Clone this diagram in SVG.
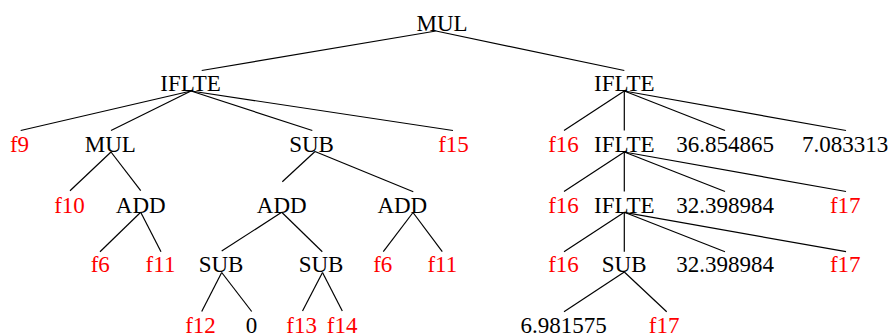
<svg xmlns="http://www.w3.org/2000/svg" width="892" height="335" viewBox="0 0 892 335">
  <style>
    .lbl text { font-family: "Liberation Serif", "Times New Roman", Times, "DejaVu Serif", serif; font-size: 23px; text-anchor: middle; fill: #000; }
    .lbl text.v { fill: #ff0000; }
    #edges line { stroke: #000; stroke-width: 1.2; }
  </style>
  <rect width="892" height="335" fill="#fff"/>

  <g id="edges">
    <line x1="436" y1="31" x2="201.7" y2="70.5"/>
    <line x1="436" y1="31" x2="624.3" y2="70.5"/>

    <line x1="191" y1="91" x2="20.7" y2="130.5"/>
    <line x1="191" y1="91" x2="111" y2="130.5"/>
    <line x1="191" y1="91" x2="312.3" y2="130.5"/>
    <line x1="191" y1="91" x2="453" y2="130.5"/>

    <line x1="624.3" y1="91" x2="564" y2="130.5"/>
    <line x1="624.3" y1="91" x2="624.3" y2="130.5"/>
    <line x1="624.3" y1="91" x2="725" y2="130.5"/>
    <line x1="624.3" y1="91" x2="846" y2="130.5"/>

    <line x1="111" y1="152" x2="70" y2="190.7"/>
    <line x1="111" y1="152" x2="140.7" y2="190.7"/>
    <line x1="315" y1="151.5" x2="282.3" y2="181.7"/>
    <line x1="315" y1="151.5" x2="413.3" y2="191.7"/>

    <line x1="624.3" y1="152" x2="564" y2="191.5"/>
    <line x1="624.3" y1="152" x2="624.3" y2="191.5"/>
    <line x1="624.3" y1="152" x2="725" y2="191.5"/>
    <line x1="624.3" y1="152" x2="846" y2="191.5"/>

    <line x1="140.7" y1="212.3" x2="100" y2="251.7"/>
    <line x1="140.7" y1="212.3" x2="161" y2="251.7"/>
    <line x1="281.7" y1="212.3" x2="221.7" y2="251"/>
    <line x1="281.7" y1="212.3" x2="322.3" y2="251.7"/>
    <line x1="413" y1="212.5" x2="383.3" y2="251.7"/>
    <line x1="413" y1="212.5" x2="442.3" y2="251.7"/>

    <line x1="624.3" y1="212.3" x2="564" y2="251.7"/>
    <line x1="624.3" y1="212.3" x2="624.3" y2="251.7"/>
    <line x1="624.3" y1="212.3" x2="725" y2="251.7"/>
    <line x1="624.3" y1="212.3" x2="846" y2="251.7"/>

    <line x1="221.7" y1="272.5" x2="201.7" y2="311.5"/>
    <line x1="221.7" y1="272.5" x2="251.7" y2="311.5"/>
    <line x1="322.5" y1="272.5" x2="302.5" y2="311"/>
    <line x1="322.5" y1="272.5" x2="342.3" y2="311"/>

    <line x1="624.3" y1="272" x2="564" y2="311.7"/>
    <line x1="624.3" y1="272" x2="666.7" y2="311.7"/>
  </g>

  <g class="lbl" font-family="Liberation Serif, serif">
    <!-- root -->
    <g id="n0"><text x="442" y="30.5">MUL</text></g>

    <!-- depth 1 -->
    <g id="n1"><text x="190.5" y="91">IFLTE</text></g>
    <g id="n2"><text x="624.3" y="91">IFLTE</text></g>

    <!-- depth 2 -->
    <g id="n3"><text class="v" x="19.5" y="152">f9</text></g>
    <g id="n4"><text x="110.3" y="152">MUL</text></g>
    <g id="n5"><text x="311.5" y="152">SUB</text></g>
    <g id="n6"><text class="v" x="453.5" y="152">f15</text></g>
    <g id="n7"><text class="v" x="563.5" y="152">f16</text></g>
    <g id="n8"><text x="624.3" y="152">IFLTE</text></g>
    <g id="n9"><text x="725" y="152">36.854865</text></g>
    <g id="n10"><text x="845" y="152">7.083313</text></g>

    <!-- depth 3 -->
    <g id="n11"><text class="v" x="69.5" y="212.5">f10</text></g>
    <g id="n12"><text x="140.7" y="212.5">ADD</text></g>
    <g id="n13"><text x="281.7" y="212.5">ADD</text></g>
    <g id="n14"><text x="402.3" y="212.5">ADD</text></g>
    <g id="n15"><text class="v" x="563.5" y="212.5">f16</text></g>
    <g id="n16"><text x="624.3" y="212.5">IFLTE</text></g>
    <g id="n17"><text x="725" y="212.5">32.398984</text></g>
    <g id="n18"><text class="v" x="845.3" y="212.5">f17</text></g>

    <!-- depth 4 -->
    <g id="n19"><text class="v" x="100.3" y="272">f6</text></g>
    <g id="n20"><text class="v" x="160.5" y="272">f11</text></g>
    <g id="n21"><text x="221" y="272">SUB</text></g>
    <g id="n22"><text x="321" y="272">SUB</text></g>
    <g id="n23"><text class="v" x="382.8" y="272">f6</text></g>
    <g id="n24"><text class="v" x="442.3" y="272">f11</text></g>
    <g id="n25"><text class="v" x="563.5" y="272">f16</text></g>
    <g id="n26"><text x="624.2" y="272">SUB</text></g>
    <g id="n27"><text x="725" y="272">32.398984</text></g>
    <g id="n28"><text class="v" x="845.3" y="272">f17</text></g>

    <!-- depth 5 -->
    <g id="n29"><text class="v" x="200.5" y="332.5">f12</text></g>
    <g id="n30"><text x="251.5" y="332.5">0</text></g>
    <g id="n31"><text class="v" x="301.7" y="332.5">f13</text></g>
    <g id="n32"><text class="v" x="342.2" y="332.5">f14</text></g>
    <g id="n33"><text x="563.7" y="332.5">6.981575</text></g>
    <g id="n34"><text class="v" x="664.2" y="332.5">f17</text></g>
  </g>
</svg>
